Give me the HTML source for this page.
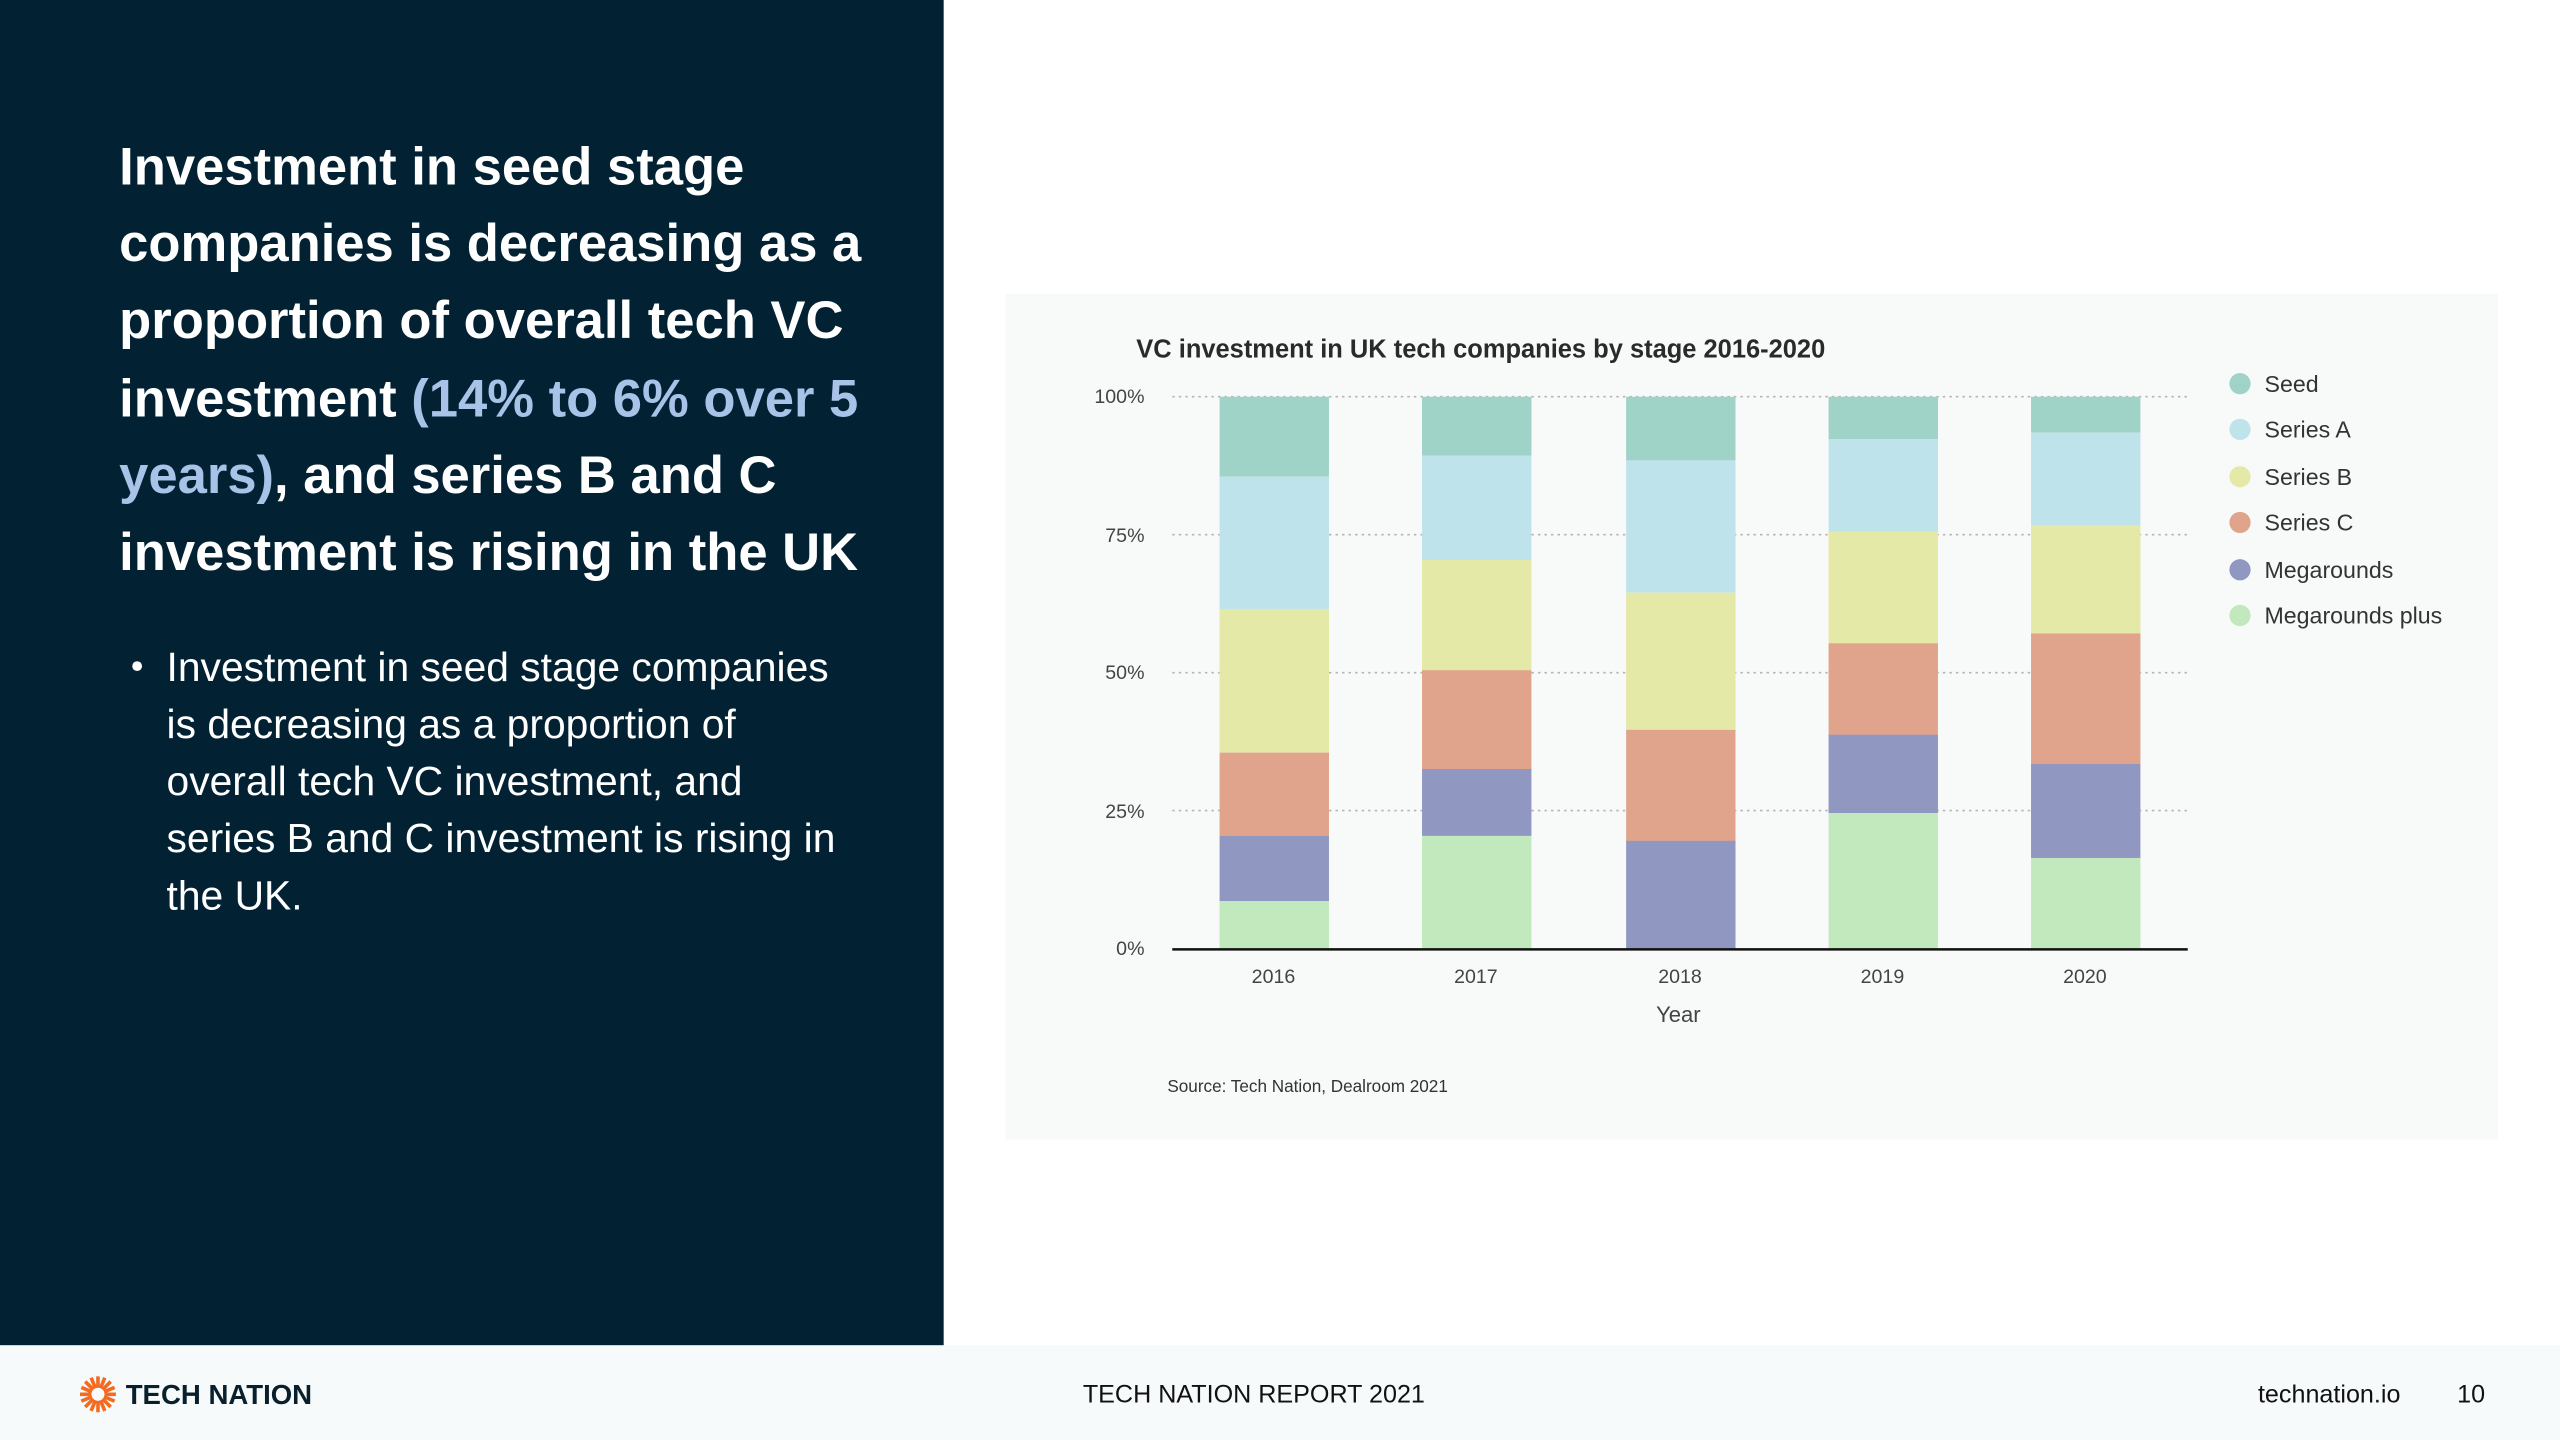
<!DOCTYPE html>
<html><head><meta charset="utf-8"><style>
html,body{margin:0;padding:0;background:#fff;}
svg{display:block;}
text{font-family:"Liberation Sans",Arial,sans-serif;}
</style></head><body>
<svg width="2560" height="1440" viewBox="0 0 1568 882" xmlns="http://www.w3.org/2000/svg">
<rect width="1568" height="882" fill="#ffffff"/>
<rect x="0" y="0" width="578" height="824" fill="#022233"/>
<rect x="0" y="824" width="1568" height="58" fill="#f7fafb"/>
<g font-weight="bold" font-size="32.2" fill="#ffffff">
<text x="73" y="113">Investment in seed stage</text>
<text x="73" y="160">companies is decreasing as a</text>
<text x="73" y="207">proportion of overall tech VC</text>
<text x="73" y="255">investment <tspan fill="#a8c2e8">(14% to 6% over 5</tspan></text>
<text x="73" y="302"><tspan fill="#a8c2e8">years)</tspan>, and series B and C</text>
<text x="73" y="349">investment is rising in the UK</text>
</g>
<g font-size="25" fill="#ffffff">
<circle cx="84" cy="408" r="3" fill="#fff"/>
<text x="102" y="417">Investment in seed stage companies</text>
<text x="102" y="452">is decreasing as a proportion of</text>
<text x="102" y="487">overall tech VC investment, and</text>
<text x="102" y="522">series B and C investment is rising in</text>
<text x="102" y="557">the UK.</text>
</g>
<rect x="616" y="180" width="914" height="518" fill="#f8f9f9"/>
<text x="696" y="219" font-size="15.6" font-weight="bold" fill="#2a2a2a">VC investment in UK tech companies by stage 2016-2020</text>
<g stroke="#b5b5b5" stroke-width="1" stroke-dasharray="1.5,2.5">
<line x1="718" y1="243" x2="1340" y2="243"/>
<line x1="718" y1="327.5" x2="1340" y2="327.5"/>
<line x1="718" y1="412" x2="1340" y2="412"/>
<line x1="718" y1="496.5" x2="1340" y2="496.5"/>
</g>
<g font-size="12" fill="#444" text-anchor="end">
<text x="701" y="247">100%</text>
<text x="701" y="332">75%</text>
<text x="701" y="416">50%</text>
<text x="701" y="501">25%</text>
<text x="701" y="585">0%</text>
</g>
<g>
<rect x="747" y="243" width="67" height="49" fill="#9fd3c7"/>
<rect x="747" y="292" width="67" height="81" fill="#bee3ea"/>
<rect x="747" y="373" width="67" height="88" fill="#e5e9a7"/>
<rect x="747" y="461" width="67" height="51.5" fill="#e0a48c"/>
<rect x="747" y="512" width="67" height="40" fill="#9098c2"/>
<rect x="747" y="552" width="67" height="29" fill="#c2e9bd"/>
<rect x="871" y="243" width="67" height="36" fill="#9fd3c7"/>
<rect x="871" y="279" width="67" height="64" fill="#bee3ea"/>
<rect x="871" y="343" width="67" height="68" fill="#e5e9a7"/>
<rect x="871" y="410.5" width="67" height="61" fill="#e0a48c"/>
<rect x="871" y="471" width="67" height="41" fill="#9098c2"/>
<rect x="871" y="512" width="67" height="69" fill="#c2e9bd"/>
<rect x="996" y="243" width="67" height="39" fill="#9fd3c7"/>
<rect x="996" y="282" width="67" height="81" fill="#bee3ea"/>
<rect x="996" y="363" width="67" height="84" fill="#e5e9a7"/>
<rect x="996" y="447" width="67" height="69" fill="#e0a48c"/>
<rect x="996" y="515" width="67" height="66" fill="#9098c2"/>
<rect x="1120" y="243" width="67" height="26" fill="#9fd3c7"/>
<rect x="1120" y="269" width="67" height="57" fill="#bee3ea"/>
<rect x="1120" y="325.5" width="67" height="68.5" fill="#e5e9a7"/>
<rect x="1120" y="394" width="67" height="57" fill="#e0a48c"/>
<rect x="1120" y="450" width="67" height="48" fill="#9098c2"/>
<rect x="1120" y="498" width="67" height="83" fill="#c2e9bd"/>
<rect x="1244" y="243" width="67" height="22" fill="#9fd3c7"/>
<rect x="1244" y="265" width="67" height="57" fill="#bee3ea"/>
<rect x="1244" y="322" width="67" height="66" fill="#e5e9a7"/>
<rect x="1244" y="388" width="67" height="81" fill="#e0a48c"/>
<rect x="1244" y="468" width="67" height="58" fill="#9098c2"/>
<rect x="1244" y="525.5" width="67" height="55.5" fill="#c2e9bd"/>
</g>
<line x1="718" y1="581.5" x2="1340" y2="581.5" stroke="#111" stroke-width="1.5"/>
<g font-size="12" fill="#444" text-anchor="middle">
<text x="780" y="602">2016</text>
<text x="904" y="602">2017</text>
<text x="1029" y="602">2018</text>
<text x="1153" y="602">2019</text>
<text x="1277" y="602">2020</text>
</g>
<text x="1028" y="626" font-size="13.5" fill="#444" text-anchor="middle">Year</text>
<text x="715" y="669" font-size="10.5" fill="#333">Source: Tech Nation, Dealroom 2021</text>
<g font-size="14.2" fill="#333">
<circle cx="1372" cy="235" r="6.5" fill="#9fd3c7"/><text x="1387" y="240">Seed</text>
<circle cx="1372" cy="263" r="6.5" fill="#bee3ea"/><text x="1387" y="268">Series A</text>
<circle cx="1372" cy="292" r="6.5" fill="#e5e9a7"/><text x="1387" y="297">Series B</text>
<circle cx="1372" cy="320" r="6.5" fill="#e0a48c"/><text x="1387" y="325">Series C</text>
<circle cx="1372" cy="349" r="6.5" fill="#9098c2"/><text x="1387" y="354">Megarounds</text>
<circle cx="1372" cy="377" r="6.5" fill="#c2e9bd"/><text x="1387" y="382">Megarounds plus</text>
</g>
<g transform="translate(60,854)">
<g stroke="#f26b21" stroke-width="2.2">
<line x1="0" y1="-11" x2="0" y2="11"/>
<line x1="-11" y1="0" x2="11" y2="0"/>
<line x1="-7.8" y1="-7.8" x2="7.8" y2="7.8"/>
<line x1="-7.8" y1="7.8" x2="7.8" y2="-7.8"/>
<line x1="-4.2" y1="-10.2" x2="4.2" y2="10.2"/>
<line x1="-10.2" y1="-4.2" x2="10.2" y2="4.2"/>
<line x1="-4.2" y1="10.2" x2="4.2" y2="-10.2"/>
<line x1="-10.2" y1="4.2" x2="10.2" y2="-4.2"/>
</g>
<circle r="4" fill="#f7fafb"/>
</g>
<text x="77" y="860" font-size="16.9" font-weight="bold" fill="#0a1f2c">TECH NATION</text>
<text x="768" y="859" font-size="15.4" fill="#111" text-anchor="middle">TECH NATION REPORT 2021</text>
<text x="1383" y="859" font-size="15.4" fill="#111">technation.io</text>
<text x="1505" y="859" font-size="15.4" fill="#111">10</text>
</svg>
</body></html>
